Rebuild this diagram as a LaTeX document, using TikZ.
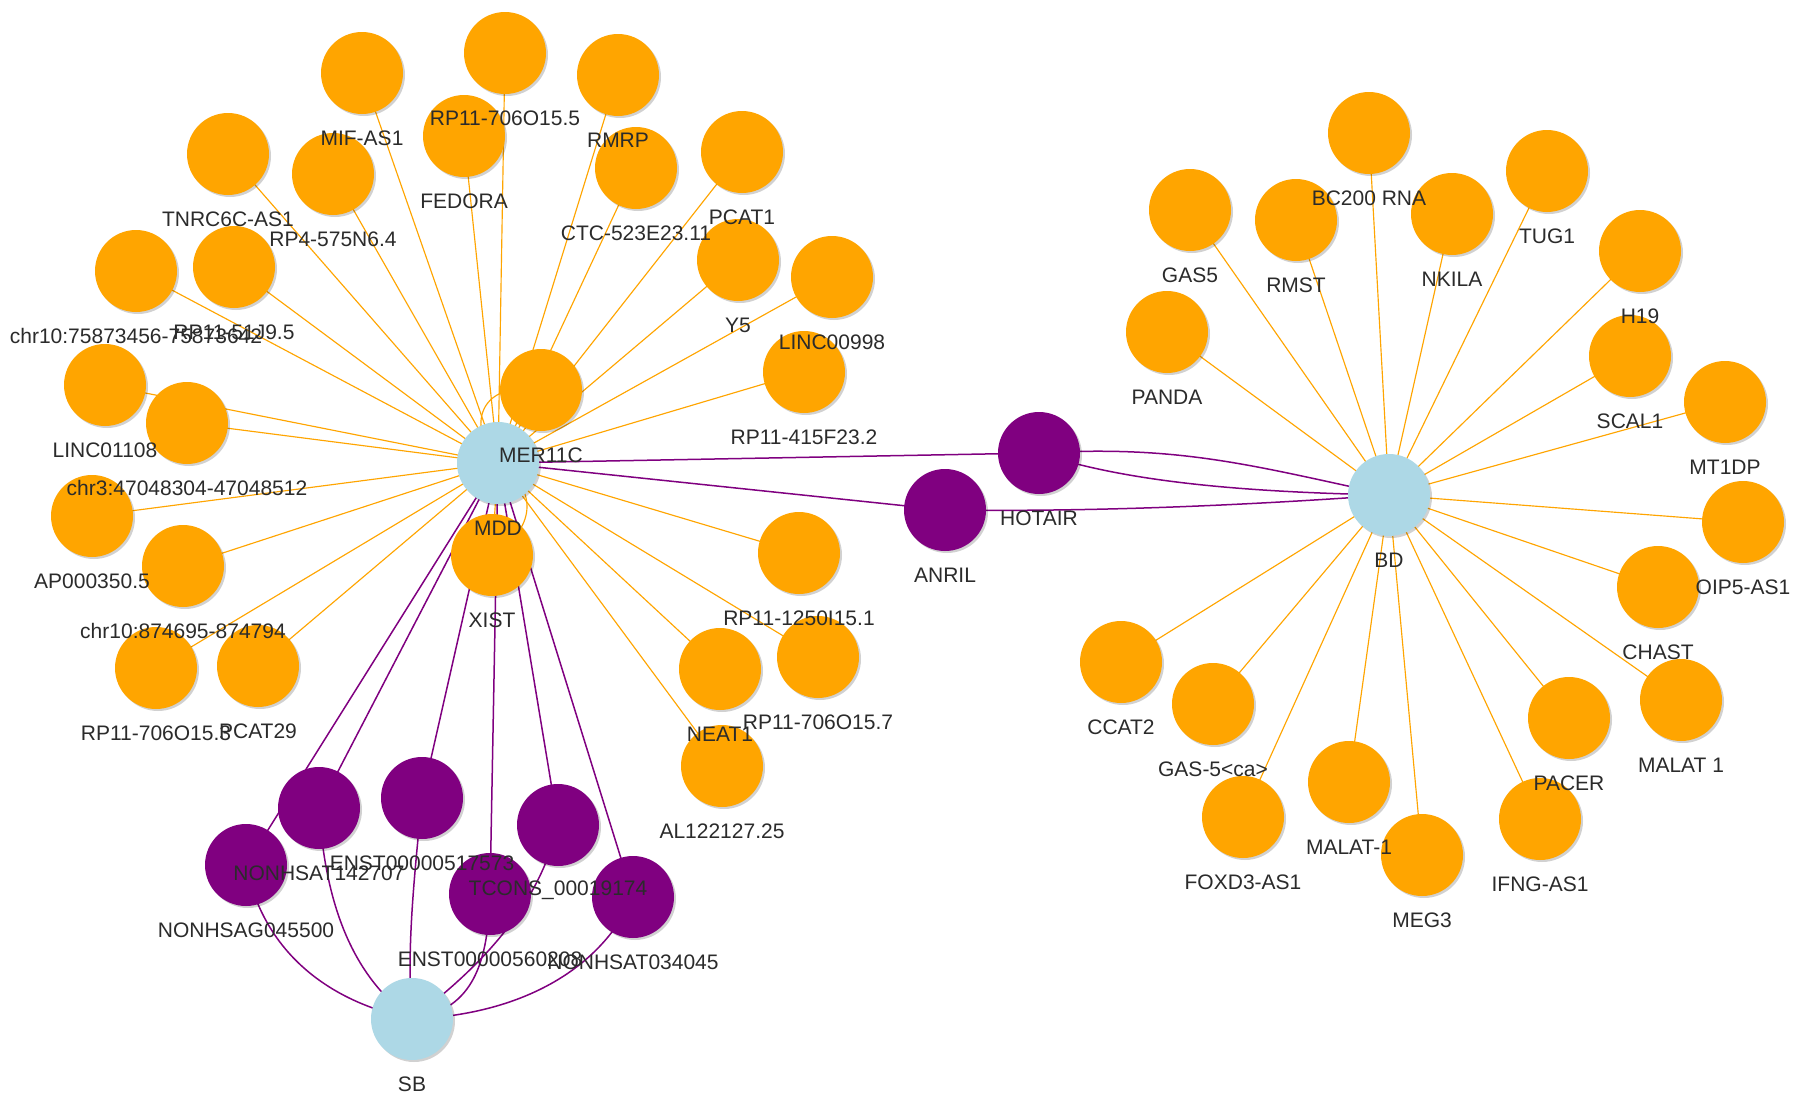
\documentclass[tikz,border=0pt]{standalone}
\usepackage{fontspec}
\setmainfont{Liberation Sans}
\usetikzlibrary{shadows}
\definecolor{nodeor}{HTML}{FFA500}
\definecolor{nodepu}{HTML}{800080}
\definecolor{nodebl}{HTML}{ADD8E6}
\definecolor{lbltxt}{HTML}{2B2B2B}
\pgfdeclarelayer{bg}
\pgfsetlayers{bg,main}
\tikzset{
  gnode/.style={circle, minimum size=82pt, inner sep=0pt, draw=none,
    drop shadow={shadow xshift=2pt, shadow yshift=-2pt, opacity=0.18, fill=black}},
  ornode/.style={gnode, fill=nodeor},
  punode/.style={gnode, fill=nodepu},
  blnode/.style={gnode, fill=nodebl},
  lbl/.style={font=\fontsize{21}{24}\selectfont, text=lbltxt, inner sep=0pt},
  oe/.style={draw=nodeor, line width=1.15pt},
  pe/.style={draw=nodepu, line width=1.5pt},
}
\begin{document}
\begin{tikzpicture}[x=1pt,y=-1pt]
\begin{pgfonlayer}{bg}
\fill[white] (0,0) rectangle (1800,1100);
\end{pgfonlayer}
\useasboundingbox (0,0) rectangle (1800,1100);
% ---------- left cluster ----------
\node[blnode] (mdd) at (498,463) {};
\node[ornode] (mer11c) at (541,390) {};
\node[ornode] (xist) at (492,555) {};
\node[ornode] (rp706a) at (505,53) {};
\node[ornode] (mifas1) at (362,73) {};
\node[ornode] (rmrp) at (618,75) {};
\node[ornode] (fedora) at (464,136) {};
\node[ornode] (tnrc) at (228,154) {};
\node[ornode] (rp4) at (333,174) {};
\node[ornode] (ctc) at (636,168) {};
\node[ornode] (pcat1) at (742,152) {};
\node[ornode] (chr10a) at (136,271) {};
\node[ornode] (rp51) at (234,267) {};
\node[ornode] (y5) at (738,260) {};
\node[ornode] (linc998) at (832,277) {};
\node[ornode] (linc1108) at (105,385) {};
\node[ornode] (chr3) at (187,423) {};
\node[ornode] (rp415) at (804,372) {};
\node[ornode] (ap) at (92,516) {};
\node[ornode] (chr10b) at (183,566) {};
\node[ornode] (rp1250) at (799,553) {};
\node[ornode] (rp706c) at (156,668) {};
\node[ornode] (pcat29) at (258,666) {};
\node[ornode] (neat1) at (720,669) {};
\node[ornode] (rp706b) at (818,657) {};
\node[ornode] (al) at (722,766) {};
% ---------- purple ----------
\node[punode] (nt142) at (319,808) {};
\node[punode] (e517) at (422,798) {};
\node[punode] (tcons) at (558,825) {};
\node[punode] (nag) at (246,865) {};
\node[punode] (e560) at (490,894) {};
\node[punode] (nt034) at (633,897) {};
\node[blnode] (sb) at (412,1019) {};
\node[punode] (hotair) at (1039,453) {};
\node[punode] (anril) at (945,510) {};
% ---------- right cluster ----------
\node[blnode] (bd) at (1389,495) {};
\node[ornode] (bc200) at (1369,133) {};
\node[ornode] (gas5) at (1190,210) {};
\node[ornode] (rmst) at (1296,220) {};
\node[ornode] (nkila) at (1452,214) {};
\node[ornode] (tug1) at (1547,171) {};
\node[ornode] (h19) at (1640,251) {};
\node[ornode] (panda) at (1167,332) {};
\node[ornode] (scal1) at (1630,356) {};
\node[ornode] (mt1dp) at (1725,402) {};
\node[ornode] (oip5) at (1743,522) {};
\node[ornode] (chast) at (1658,587) {};
\node[ornode] (ccat2) at (1121,662) {};
\node[ornode] (gas5ca) at (1213,704) {};
\node[ornode] (pacer) at (1569,718) {};
\node[ornode] (malatsp) at (1681,700) {};
\node[ornode] (malat1) at (1349,782) {};
\node[ornode] (foxd3) at (1243,817) {};
\node[ornode] (meg3) at (1422,855) {};
\node[ornode] (ifng) at (1540,819) {};
% ---------- edges ----------
\begin{pgfonlayer}{bg}
\foreach \t in {mer11c,xist,rp706a,mifas1,rmrp,fedora,tnrc,rp4,ctc,pcat1,chr10a,rp51,y5,linc998,linc1108,chr3,rp415,ap,chr10b,rp1250,rp706c,pcat29,neat1,rp706b,al}
  \draw[oe] (mdd.center) -- (\t.center);
\draw[oe] (mdd.center) .. controls (465,425) and (480,380) .. (mer11c.center);
\draw[oe] (mdd.center) .. controls (540,490) and (535,530) .. (xist.center);
\foreach \t in {bc200,gas5,rmst,nkila,tug1,h19,panda,scal1,mt1dp,oip5,chast,ccat2,gas5ca,pacer,malatsp,malat1,foxd3,meg3,ifng}
  \draw[oe] (bd.center) -- (\t.center);
\foreach \t in {nt142,e517,tcons,nag,e560,nt034,hotair,anril}
  \draw[pe] (mdd.center) -- (\t.center);
\draw[pe] (hotair.center) .. controls (1180,445) and (1250,465) .. (bd.center);
\draw[pe] (hotair.center) .. controls (1120,480) and (1230,492) .. (bd.center);
\draw[pe] (anril.center) .. controls (1100,512) and (1250,505) .. (bd.center);
\draw[pe] (nag.center) .. controls (262,945) and (320,1000) .. (sb.center);
\draw[pe] (nt142.center) .. controls (325,900) and (350,975) .. (sb.center);
\draw[pe] (e517.center) .. controls (415,870) and (406,950) .. (sb.center);
\draw[pe] (e560.center) .. controls (488,960) and (475,1010) .. (sb.center);
\draw[pe] (tcons.center) .. controls (540,900) and (490,960) .. (sb.center);
\draw[pe] (nt034.center) .. controls (600,970) and (520,1015) .. (sb.center);
\end{pgfonlayer}
% ---------- labels ----------
\foreach \n/\t in {mdd/MDD, mer11c/MER11C, xist/XIST, rp706a/RP11-706O15.5, mifas1/MIF-AS1, rmrp/RMRP, fedora/FEDORA, tnrc/TNRC6C-AS1, rp4/RP4-575N6.4, ctc/CTC-523E23.11, pcat1/PCAT1, chr10a/chr10:75873456-75873642, rp51/RP11-51J9.5, y5/Y5, linc998/LINC00998, linc1108/LINC01108, chr3/chr3:47048304-47048512, rp415/RP11-415F23.2, ap/AP000350.5, chr10b/chr10:874695-874794, rp1250/RP11-1250I15.1, rp706c/RP11-706O15.3, pcat29/PCAT29, neat1/NEAT1, rp706b/RP11-706O15.7, al/AL122127.25, nt142/NONHSAT142707, e517/ENST00000517573, tcons/TCONS\_00019174, nag/NONHSAG045500, e560/ENST00000560208, nt034/NONHSAT034045, sb/SB, hotair/HOTAIR, anril/ANRIL, bd/BD, bc200/BC200 RNA, gas5/GAS5, rmst/RMST, nkila/NKILA, tug1/TUG1, h19/H19, panda/PANDA, scal1/SCAL1, mt1dp/MT1DP, oip5/OIP5-AS1, chast/CHAST, ccat2/CCAT2, gas5ca/GAS-5<ca>, pacer/PACER, malatsp/MALAT 1, malat1/MALAT-1, foxd3/FOXD3-AS1, meg3/MEG3, ifng/IFNG-AS1}
  \node[lbl] (l-\n) at ([yshift=-65pt]\n.center) {\t};
\end{tikzpicture}
\end{document}
